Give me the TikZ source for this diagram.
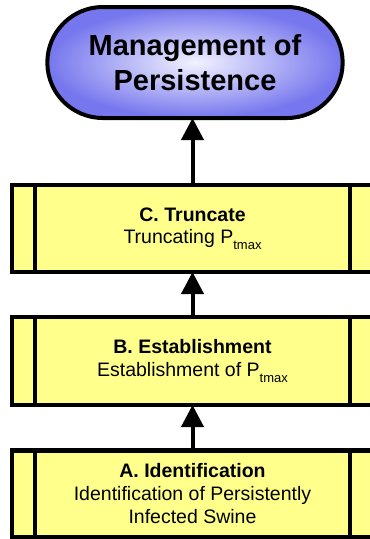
\documentclass[tikz,border=0pt]{standalone}
\usepackage{fontspec}
\setmainfont{Liberation Sans}
\usetikzlibrary{arrows.meta,shapes.misc}
\definecolor{boxyellow}{RGB}{255,255,140}
\definecolor{ovalout}{RGB}{118,118,238}
\definecolor{ovalin}{RGB}{242,242,255}
\tikzset{
  stepbox/.style={rectangle, draw=black, fill=boxyellow, line width=4.5pt, outer sep=0pt,
    minimum width=361pt, minimum height=87pt, align=center, inner sep=0pt,
    font=\fontsize{19.5}{23}\selectfont},
  goal/.style={rounded rectangle, draw=black, line width=4pt, outer sep=0pt,
    inner color=ovalin, outer color=ovalout,
    minimum width=302pt, minimum height=111pt, align=center,
    font=\fontsize{29}{35}\selectfont\bfseries},
  conn/.style={line width=4pt, -{Triangle[width=22pt,length=22pt]}},
  divider/.style={line width=4.5pt}
}
\newcommand{\Psub}{P\raisebox{-5.5pt}{\fontsize{13}{13}\selectfont tmax}}
\begin{document}
\begin{tikzpicture}[x=1pt,y=-1pt]
\useasboundingbox (0,0) rectangle (370,539);
\clip (0,0) rectangle (370,539);
\node[goal] (goal) at (195,62.5) {Management of\\Persistence};
\node[stepbox] (C) at (192.5,228.5) {\textbf{C. Truncate}\\Truncating \Psub};
\node[stepbox, minimum height=88pt] (B) at (192.5,361) {\textbf{B. Establishment}\\Establishment of \Psub};
\node[stepbox] (A) at (192.5,494) {\textbf{A. Identification}\\Identification of Persistently\\Infected Swine};
\foreach \n in {A,B,C}{
  \draw[divider] ([xshift=23pt]\n.north west) -- ([xshift=23pt]\n.south west);
  \draw[divider] ([xshift=-23pt]\n.north east) -- ([xshift=-23pt]\n.south east);
}
\draw[conn] (C.north) -- (C.north |- goal.south);
\draw[conn] (B.north) -- (C.south);
\draw[conn] (A.north) -- (B.south);
\end{tikzpicture}
\end{document}
